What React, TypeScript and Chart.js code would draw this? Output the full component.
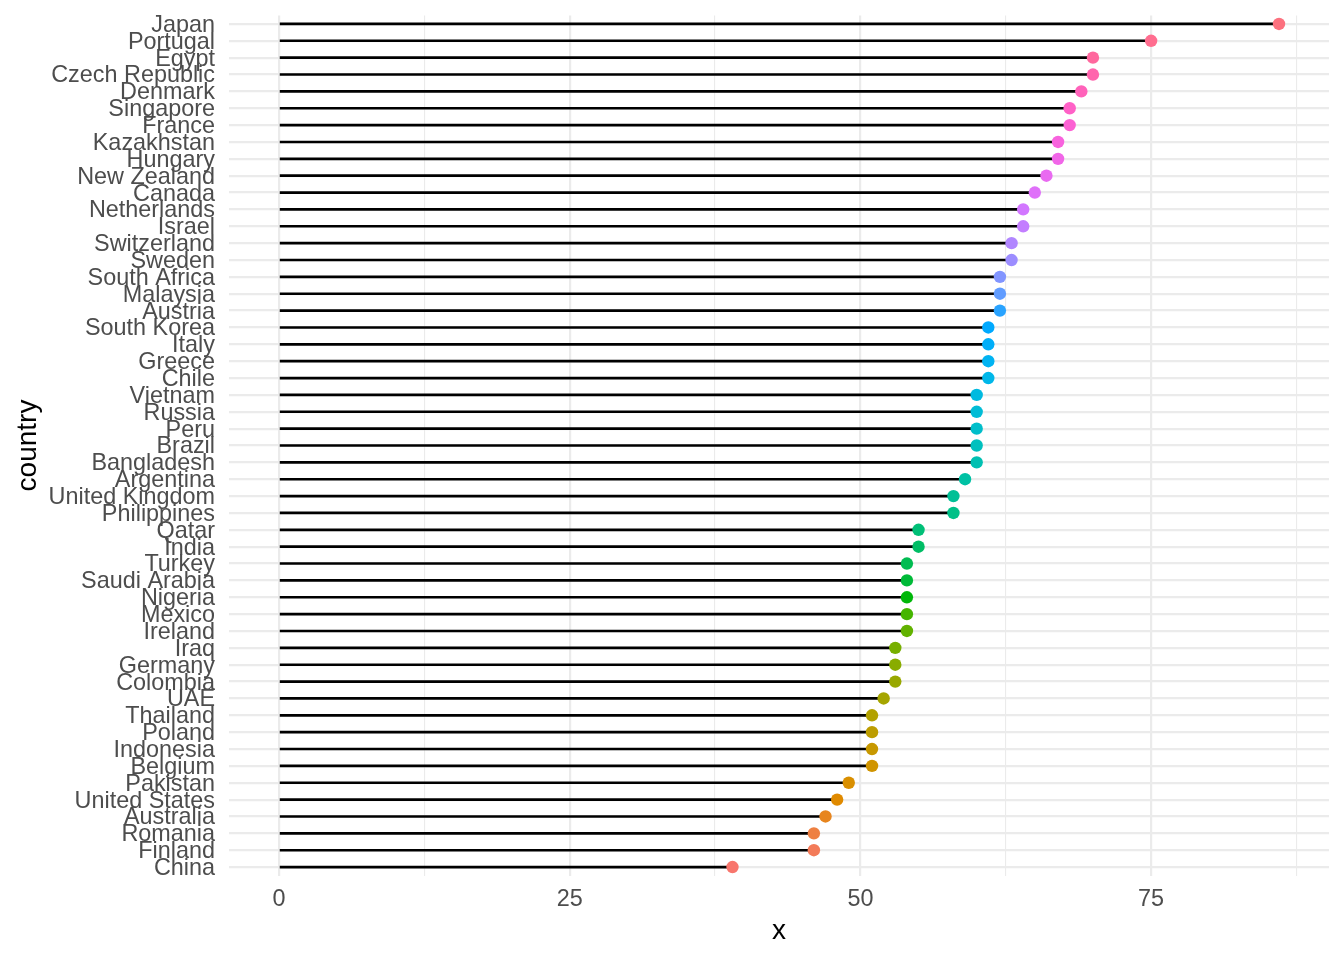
import React, { useEffect, useRef } from "react";
import { Chart, registerables } from "chart.js";

Chart.register(...registerables);

const countries = [
  "Japan", "Portugal", "Egypt", "Czech Republic", "Denmark", "Singapore", "France",
  "Kazakhstan", "Hungary", "New Zealand", "Canada", "Netherlands", "Israel",
  "Switzerland", "Sweden", "South Africa", "Malaysia", "Austria", "South Korea",
  "Italy", "Greece", "Chile", "Vietnam", "Russia", "Peru", "Brazil", "Bangladesh",
  "Argentina", "United Kingdom", "Philippines", "Qatar", "India", "Turkey",
  "Saudi Arabia", "Nigeria", "Mexico", "Ireland", "Iraq", "Germany", "Colombia",
  "UAE", "Thailand", "Poland", "Indonesia", "Belgium", "Pakistan", "United States",
  "Australia", "Romania", "Finland", "China",
];

const values = [
  86, 75, 70, 70, 69, 68, 68,
  67, 67, 66, 65, 64, 64,
  63, 63, 62, 62, 62, 61,
  61, 61, 61, 60, 60, 60, 60, 60,
  59, 58, 58, 55, 55, 54,
  54, 54, 54, 54, 53, 53, 53,
  52, 51, 51, 51, 51, 49, 48,
  47, 46, 46, 39,
];

const xTickValues = [0, 12.5, 25, 37.5, 50, 62.5, 75, 87.5];
const xMin = -4.3;
const xMax = 90.3;

// ggplot2 hue palette (HCL, c=100, l=65)
function hcl(h: number, c: number, l: number): string {
  const Xn = 0.95047, Yn = 1.0, Zn = 1.08883;
  const un = (4 * Xn) / (Xn + 15 * Yn + 3 * Zn);
  const vn = (9 * Yn) / (Xn + 15 * Yn + 3 * Zn);
  const hr = (h * Math.PI) / 180;
  const U = c * Math.cos(hr);
  const V = c * Math.sin(hr);
  const Y = l > 8 ? Math.pow((l + 16) / 116, 3) : l / 903.3;
  const up = U / (13 * l) + un;
  const vp = V / (13 * l) + vn;
  const X = (9 * Y * up) / (4 * vp);
  const Z = -X / 3 - 5 * Y + (3 * Y) / vp;
  const lin = [
    3.240479 * X - 1.53715 * Y - 0.498535 * Z,
    -0.969256 * X + 1.875992 * Y + 0.041556 * Z,
    0.055648 * X - 0.204043 * Y + 1.057311 * Z,
  ];
  const g = lin.map((v) => {
    const s = v <= 0.0031308 ? 12.92 * v : 1.055 * Math.pow(v, 1 / 2.4) - 0.055;
    return Math.round(Math.min(1, Math.max(0, s)) * 255);
  });
  return `rgb(${g[0]},${g[1]},${g[2]})`;
}

const n = countries.length;
const pointColors = countries.map((_, i) => {
  const level = n - 1 - i; // bottom (China) is first level
  return hcl(15 + (360 * level) / n, 100, 65);
});

const FONT = "'Liberation Sans', Arial, Helvetica, sans-serif";

export default function App() {
  const ref = useRef<HTMLCanvasElement>(null);

  useEffect(() => {
    document.body.style.margin = "0";
    const canvas = ref.current!;
    const chart = new Chart(canvas, {
      type: "bar",
      data: {
        labels: countries,
        datasets: [
          {
            type: "line",
            data: values,
            showLine: false,
            pointRadius: 6.2,
            pointHoverRadius: 6.2,
            pointBorderWidth: 0,
            pointBackgroundColor: pointColors,
            borderColor: "transparent",
            order: 1,
          } as any,
          {
            type: "bar",
            data: values,
            backgroundColor: "#000000",
            barThickness: 2,
            order: 2,
          },
        ],
      },
      options: {
        responsive: false,
        animation: false,
        indexAxis: "y",
        layout: { padding: { top: 15.5, right: 15, bottom: 0, left: 0 } },
        plugins: {
          legend: { display: false },
          tooltip: { enabled: false },
        },
        scales: {
          x: {
            type: "linear",
            min: xMin,
            max: xMax,
            afterBuildTicks: (scale: any) => {
              scale.ticks = xTickValues.map((v) => ({ value: v }));
            },
            afterFit: (scale: any) => {
              scale.height = 84.5;
              scale.paddingLeft = 0;
              scale.paddingRight = 0;
            },
            grid: {
              color: "#EBEBEB",
              lineWidth: (ctx: any) => (ctx.tick && ctx.tick.value % 25 === 0 ? 2.2 : 1.1),
              drawTicks: false,
            },
            border: { display: false },
            ticks: {
              padding: 10,
              color: "#4D4D4D",
              font: { family: FONT, size: 23.4 },
              callback: (v: any) => (Number(v) % 25 === 0 ? String(v) : ""),
              maxRotation: 0,
              autoSkip: false,
            },
            title: {
              display: true,
              text: "x",
              color: "#000000",
              font: { family: FONT, size: 28 },
              padding: { top: 0, bottom: 11.5 },
            },
          },
          y: {
            type: "category",
            offset: true,
            afterFit: (scale: any) => {
              scale.width = 229;
              scale.paddingTop = 0;
              scale.paddingBottom = 0;
            },
            grid: {
              color: "#EBEBEB",
              lineWidth: 2.2,
              offset: false,
              drawTicks: false,
            },
            border: { display: false },
            ticks: {
              padding: 14,
              labelOffset: 1.5,
              color: "#4D4D4D",
              font: { family: FONT, size: 23.4 },
              autoSkip: false,
            },
            title: {
              display: true,
              text: "country",
              color: "#000000",
              font: { family: FONT, size: 28 },
              padding: { top: 11.5, bottom: 0 },
            },
          },
        },
      },
    });
    return () => chart.destroy();
  }, []);

  return (
    <div style={{ position: "absolute", left: 0, top: 0, width: 1344, height: 960 }}>
      <canvas ref={ref} width={1344} height={960} style={{ display: "block" }} />
    </div>
  );
}
